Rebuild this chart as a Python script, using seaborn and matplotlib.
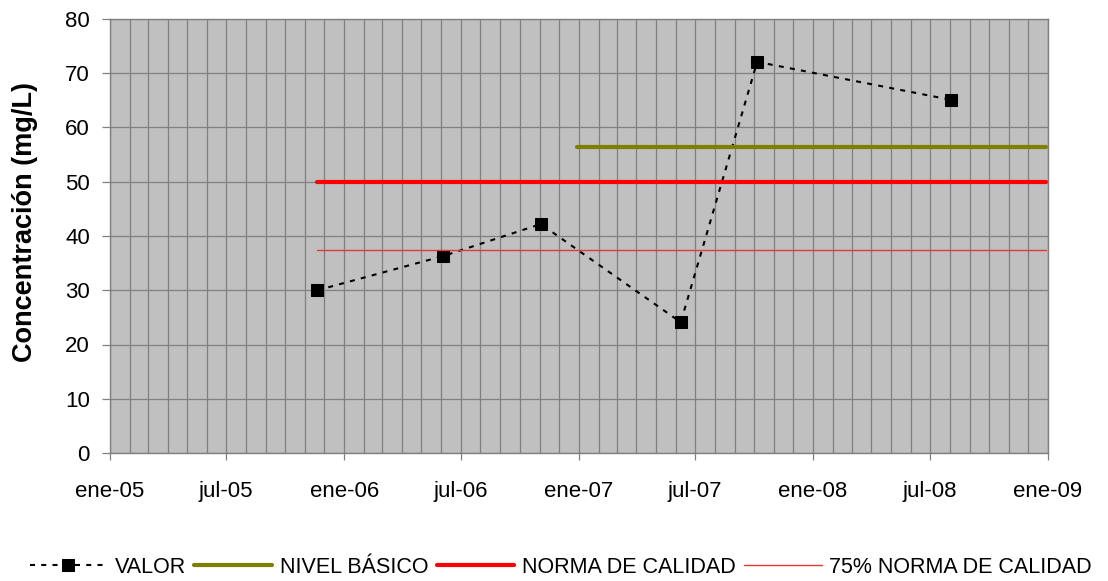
import pandas as pd
import numpy as np
import matplotlib
matplotlib.use('Agg')
import matplotlib.pyplot as plt
import seaborn as sns
from matplotlib import dates as mdates

# Datos
fechas = ['2005-11-20', '2006-06-04', '2006-11-03', '2007-06-09', '2007-10-06', '2008-08-03']
valores = [30.0, 36.3, 42.2, 24.1, 72.1, 65.1]

nivel_basico_fechas = ['2006-12-29', '2008-12-29']
nivel_basico = [56.4, 56.4]

norma_fechas = ['2005-11-20', '2008-12-29']
norma = [50.0, 50.0]
norma_75 = [37.5, 37.5]

ticks_x = ['2005-01-01', '2005-07-01', '2006-01-01', '2006-07-01', '2007-01-01',
           '2007-07-01', '2008-01-01', '2008-07-01', '2009-01-01']
etiquetas_x = ['ene-05', 'jul-05', 'ene-06', 'jul-06', 'ene-07', 'jul-07', 'ene-08', 'jul-08', 'ene-09']
ticks_y = [0, 10, 20, 30, 40, 50, 60, 70, 80]

sns.set_theme(style='whitegrid', rc={
    'axes.facecolor': '#C0C0C0',
    'axes.edgecolor': '#808080',
    'grid.color': '#808080',
    'grid.linewidth': 0.9,
    'text.color': 'black',
    'axes.labelcolor': 'black',
    'xtick.color': 'black',
    'ytick.color': 'black',
})
plt.rcParams['font.family'] = ['Liberation Sans', 'DejaVu Sans']

fig = plt.figure(figsize=(11.08, 5.81), dpi=100)
ax = fig.add_axes([110 / 1108, 128 / 581, 938 / 1108, 434 / 581])

df = pd.DataFrame({'fecha': pd.to_datetime(fechas), 'valor': valores})
sns.lineplot(data=df, x='fecha', y='valor', ax=ax, color='black', lw=1.5,
             linestyle=(0, (2.4, 3.0)), marker='s', markersize=8.5,
             markeredgecolor='black', markerfacecolor='black', label='VALOR')
sns.lineplot(x=pd.to_datetime(nivel_basico_fechas), y=nivel_basico, ax=ax,
             color='#808000', lw=3, label='NIVEL BÁSICO')
sns.lineplot(x=pd.to_datetime(norma_fechas), y=norma, ax=ax,
             color='#FF0000', lw=3, label='NORMA DE CALIDAD')
sns.lineplot(x=pd.to_datetime(norma_fechas), y=norma_75, ax=ax,
             color='#E03A3A', lw=1, label='75% NORMA DE CALIDAD')

ax.set_xlim(pd.Timestamp(ticks_x[0]), pd.Timestamp(ticks_x[-1]))
ax.set_ylim(0, 80)
ax.set_yticks(ticks_y)
ax.set_xticks(pd.to_datetime(ticks_x))
ax.set_xticklabels(etiquetas_x)
ax.xaxis.set_minor_locator(mdates.MonthLocator())
ax.grid(True, which='both', axis='x', color='#808080', lw=0.9)
ax.grid(True, which='major', axis='y', color='#808080', lw=0.9)

ax.tick_params(axis='x', which='major', length=5, width=0.9, color='#808080',
               labelcolor='black', direction='out', pad=15, labelsize=16, bottom=True)
ax.tick_params(axis='x', which='minor', length=0, bottom=False)
ax.tick_params(axis='y', length=6, width=0.9, color='#808080', labelcolor='black',
               direction='out', pad=8.5, labelsize=16, left=True)
for s in ax.spines.values():
    s.set_color('#808080')
    s.set_linewidth(1)

ax.set_xlabel('')
ax.set_ylabel('Concentración (mg/L)', fontsize=19.5, fontweight='bold', color='black')
ax.yaxis.set_label_coords(-0.0768, 0.532)

handles, labels = ax.get_legend_handles_labels()
ax.legend_.remove()
fig.legend(handles, labels, loc='center', bbox_to_anchor=(0.506, 0.024), ncol=4,
           frameon=False, numpoints=1, handlelength=3.6, handletextpad=0.35,
           columnspacing=0.4, borderpad=0, borderaxespad=0, labelcolor='black',
           prop={'family': 'Liberation Sans', 'size': 15.5})

fig.savefig('out.png', dpi=100)
